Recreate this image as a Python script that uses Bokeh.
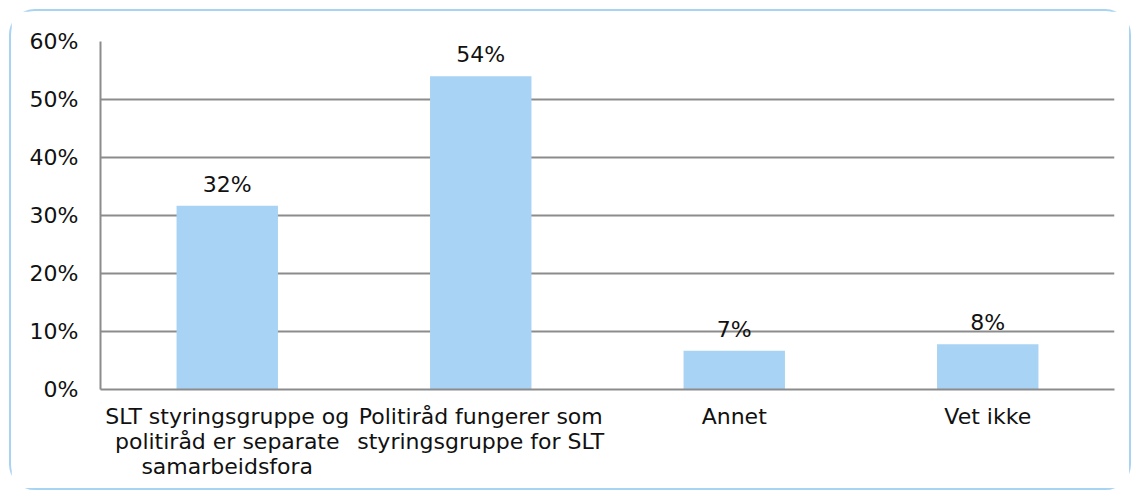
from bokeh.plotting import figure
from bokeh.models import ColumnDataSource, FixedTicker, CustomJSTickFormatter, Range1d, LabelSet
from bokeh.core.properties import value
from bokeh.embed import file_html
from bokeh.resources import INLINE

categories = ["SLT styringsgruppe og\npolitiråd er separate\nsamarbeidsfora",
              "Politiråd fungerer som\nstyringsgruppe for SLT",
              "Annet",
              "Vet ikke"]
values = [31.7, 54.0, 6.7, 7.8]
labels = ["32%", "54%", "7%", "8%"]
y_ticks = [0, 10, 20, 30, 40, 50, 60]

FONT = "DejaVu Sans"
FS = "22px"
src = ColumnDataSource(dict(cat=categories, val=values, lab=labels))

p = figure(x_range=categories, y_range=Range1d(0, 60), width=1122, height=481,
           output_backend="svg", toolbar_location=None,
           min_border_left=89, min_border_right=19, min_border_top=30, min_border_bottom=103,
           styles={"border": "2px solid #A9D3F2", "border-radius": "26px",
                   "margin-left": "9px", "margin-top": "9px", "box-sizing": "border-box"})
p.outline_line_color = None
p.vbar(x="cat", top="val", width=0.4, source=src, fill_color="#A8D3F4", line_color=None)

p.add_layout(LabelSet(x="cat", y="val", text="lab", source=src, y_offset=9,
                      text_align="center", text_baseline="bottom",
                      text_font=value(FONT), text_font_size=FS, text_color="#111111"))

p.yaxis.ticker = FixedTicker(ticks=y_ticks)
p.yaxis.formatter = CustomJSTickFormatter(code="return tick + '%';")
for ax in (p.xaxis, p.yaxis):
    ax.major_label_text_font = FONT
    ax.major_label_text_font_size = FS
    ax.major_label_text_color = "#111111"
    ax.major_tick_line_color = None
    ax.minor_tick_line_color = None
    ax.axis_line_color = "#8C8C8C"
    ax.axis_line_width = 2
p.xaxis.major_label_text_line_height = 1.0
p.yaxis.major_label_standoff = 16
p.xaxis.major_label_standoff = 8
p.xgrid.grid_line_color = None
p.ygrid.grid_line_color = "#8C8C8C"
p.ygrid.grid_line_width = 2
p.ygrid.ticker = FixedTicker(ticks=y_ticks)
p.x_range.range_padding = 0

open("out.html", "w").write(file_html(p, INLINE))
